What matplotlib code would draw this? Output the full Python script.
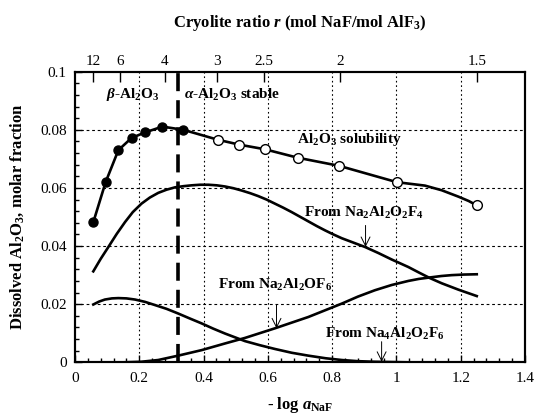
import matplotlib
matplotlib.use("Agg")
import matplotlib.pyplot as plt
from matplotlib.ticker import MultipleLocator, FuncFormatter

plt.rcParams['font.family'] = ['Liberation Serif', 'DejaVu Serif']
plt.rcParams['mathtext.fontset'] = 'custom'
plt.rcParams['mathtext.rm'] = 'Liberation Serif'
plt.rcParams['mathtext.it'] = 'Liberation Serif:italic'
plt.rcParams['mathtext.bf'] = 'Liberation Serif:bold'
plt.rcParams['mathtext.bfit'] = 'Liberation Serif:italic:bold'

# ---- data ----
sol_x = [0.057, 0.0954, 0.135, 0.176, 0.218, 0.272, 0.337, 0.444, 0.511, 0.591,
         0.693, 0.822, 1.001, 1.037, 1.089, 1.141, 1.193, 1.225, 1.250]
sol_y = [0.0482, 0.0620, 0.0730, 0.0772, 0.0791, 0.0811, 0.0800, 0.0766, 0.0749, 0.0733,
         0.0704, 0.0676, 0.0620, 0.0615, 0.0608, 0.0592, 0.0570, 0.0555, 0.0540]

beta_x = [0.057, 0.0954, 0.135, 0.176, 0.218, 0.272, 0.337]
beta_y = [0.0482, 0.0620, 0.0730, 0.0772, 0.0791, 0.0811, 0.0800]
alpha_x = [0.444, 0.511, 0.591, 0.693, 0.822, 1.001, 1.250]
alpha_y = [0.0766, 0.0749, 0.0733, 0.0704, 0.0676, 0.0620, 0.0540]

f4_x = [0.057, 0.080, 0.104, 0.130, 0.156, 0.180, 0.207, 0.233, 0.259, 0.285, 0.311, 0.337,
        0.363, 0.389, 0.415, 0.441, 0.467, 0.493, 0.519, 0.545, 0.570, 0.596,
        0.622, 0.648, 0.674, 0.700, 0.726, 0.752, 0.778, 0.804, 0.830, 0.866, 0.902, 0.944,
        0.985, 1.037, 1.070, 1.104, 1.141, 1.193, 1.250]
f4_y = [0.0313, 0.0356, 0.0397, 0.0442, 0.0483, 0.0517, 0.0546, 0.0567, 0.0583, 0.0594, 0.0602,
        0.0606, 0.0609, 0.0611, 0.0611, 0.0609, 0.0605, 0.0599, 0.0591, 0.0582, 0.0572, 0.0560,
        0.0546, 0.0532, 0.0517, 0.0501, 0.0485, 0.0469, 0.0454, 0.0440, 0.0427, 0.0412, 0.0397,
        0.0376, 0.0354, 0.0328, 0.0309, 0.0290, 0.0272, 0.0250, 0.0228]

of6_x = [0.057, 0.150, 0.206, 0.259, 0.321, 0.394, 0.467, 0.529, 0.622, 0.726, 0.830,
         0.880, 0.933, 0.985, 1.037, 1.070, 1.104, 1.140, 1.172, 1.210, 1.250]
of6_y = [0.0000, 0.0000, 0.0002, 0.0008, 0.0023, 0.0042, 0.0065, 0.0084, 0.0117, 0.0156, 0.0202,
         0.0226, 0.0248, 0.0266, 0.0280, 0.0287, 0.0292, 0.0297, 0.0300, 0.0302, 0.0303]

na4_x = [0.057, 0.075, 0.093, 0.115, 0.135, 0.160, 0.187, 0.218, 0.249, 0.285, 0.321, 0.357,
         0.394, 0.430, 0.467, 0.529, 0.575, 0.622, 0.674, 0.726,
         0.780, 0.830, 0.880, 0.933, 1.037, 1.250]
na4_y = [0.0199, 0.0209, 0.0216, 0.0220, 0.0221, 0.0220, 0.0216, 0.0208, 0.0197, 0.0184, 0.0168,
         0.0151, 0.0134, 0.0116, 0.0099, 0.0073, 0.0059, 0.0046, 0.0033, 0.0023,
         0.0014, 0.0008, 0.0004, 0.0002, 0.0000, 0.0000]

boundary_x = 0.321

r_labels = ['12', '6', '4', '3', '2.5', '2', '1.5']
r_pos = [0.057, 0.140, 0.280, 0.441, 0.588, 0.825, 1.250]

# ---- figure ----
fig = plt.figure(figsize=(5.34, 4.16), dpi=100)
ax = fig.add_axes([0.1404, 0.129, 0.8427, 0.6987])
ax.set_xlim(0, 1.4)
ax.set_ylim(0, 0.1)

# grid
for gx in [0.2, 0.4, 0.6, 0.8, 1.0, 1.2]:
    ax.axvline(gx, color='black', lw=0.8, ls=(0, (1.5, 2.5)), zorder=1)
for gy in [0.02, 0.04, 0.06, 0.08]:
    ax.axhline(gy, color='black', lw=0.8, ls=(0, (2.5, 2.5)), zorder=1)

lw = 1.9
ax.plot(sol_x, sol_y, color='black', lw=lw, zorder=3)
ax.plot(f4_x, f4_y, color='black', lw=lw, zorder=3)
ax.plot(of6_x, of6_y, color='black', lw=lw, zorder=3)
ax.plot(na4_x, na4_y, color='black', lw=lw, zorder=3)
ax.plot(beta_x, beta_y, 'o', color='black', ms=6.5, zorder=4)
ax.plot(alpha_x, alpha_y, 'o', mfc='white', mec='black', mew=1.0, ms=7, zorder=4)

ax.axvline(boundary_x, color='black', lw=2.6, ls=(0, (5, 2.5)), zorder=3)

# annotations
tkw = dict(fontsize=11, fontweight='bold', va='center', ha='left')
ax.text(0.098, 0.092, r'$\mathbfit{\beta}$-$\mathbf{Al_2O_3}$', **tkw)
ax.text(0.339, 0.092, r'$\mathbfit{\alpha}$-$\mathbf{Al_2O_3}$ stable', **tkw)
ax.text(0.690, 0.0766, r'$\mathbf{Al_2O_3}$ solubility', **tkw)
ax.text(0.713, 0.0515, r'From $\mathbf{Na_2Al_2O_2F_4}$', **tkw)
ax.text(0.446, 0.0265, r'From $\mathbf{Na_2Al_2OF_6}$', **tkw)
ax.text(0.778, 0.0099, r'From $\mathbf{Na_4Al_2O_2F_6}$', **tkw)

akw = dict(arrowstyle='->', color='black', lw=0.7, mutation_scale=16, shrinkA=0, shrinkB=0)
ax.annotate('', xy=(0.904, 0.0397), xytext=(0.904, 0.0471), arrowprops=akw)
ax.annotate('', xy=(0.627, 0.0117), xytext=(0.627, 0.0199), arrowprops=akw)
ax.annotate('', xy=(0.954, 0.0002), xytext=(0.954, 0.0071), arrowprops=akw)

# ticks
fmt = FuncFormatter(lambda v, p: ('%g' % round(v, 4)))
ax.xaxis.set_major_locator(MultipleLocator(0.2))
ax.xaxis.set_minor_locator(MultipleLocator(0.04))
ax.yaxis.set_major_locator(MultipleLocator(0.02))
ax.yaxis.set_minor_locator(MultipleLocator(0.004))
ax.xaxis.set_major_formatter(fmt)
ax.yaxis.set_major_formatter(fmt)
ax.tick_params(which='both', direction='in', top=False, right=False, labelsize=11, width=1.0)
ax.tick_params(which='major', length=5)
ax.tick_params(axis='x', which='major', pad=7)
ax.tick_params(axis='y', which='major', pad=6)
ax.tick_params(which='minor', length=3)
for s in ax.spines.values():
    s.set_linewidth(1.5)

ax.set_xlabel(r'- log $\mathbfit{a}_{\mathbf{NaF}}$', fontsize=12, fontweight='bold', labelpad=7)
ax.set_ylabel(r'Dissolved $\mathbf{Al_2O_3}$, molar fraction', fontsize=12, fontweight='bold', labelpad=10)

# top axis: cryolite ratio
ax2 = ax.twiny()
ax2.set_xlim(ax.get_xlim())
ax2.set_xticks(r_pos)
ax2.set_xticklabels(r_labels)
ax2.tick_params(axis='x', direction='in', length=7, width=1.0, labelsize=11, pad=3)
for s in ax2.spines.values():
    s.set_linewidth(1.5)
ax2.set_xlabel(r'Cryolite ratio $\mathbfit{r}$ (mol NaF/mol $\mathbf{AlF_3}$)',
               fontsize=12, fontweight='bold', labelpad=20)

fig.savefig('out.png', dpi=100)
